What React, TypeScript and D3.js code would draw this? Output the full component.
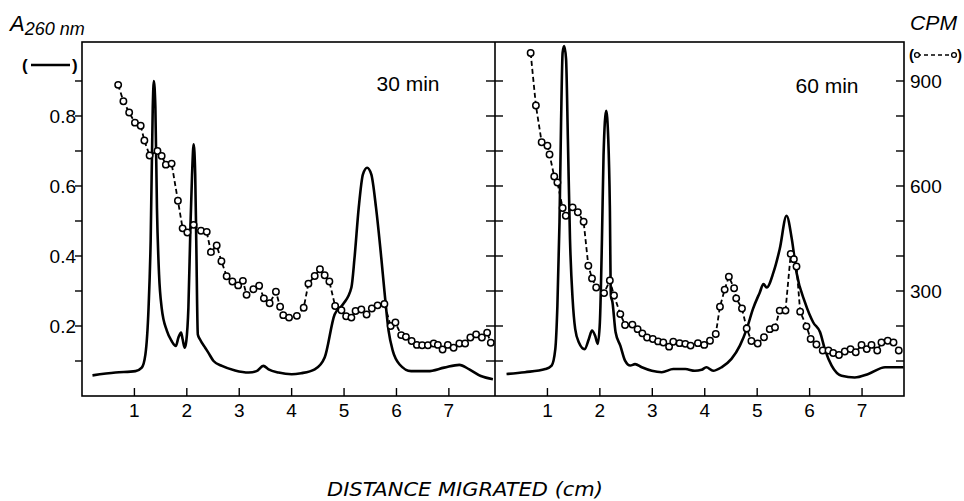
import { useEffect, useRef } from 'react';
import * as d3 from 'd3';

type Pt = [number, number];

// [distance (cm), A260]
const absorbance30: Pt[] = [
  [0.2, 0.059], [0.64, 0.067], [1.02, 0.071], [1.14, 0.081], [1.21, 0.119], [1.27, 0.252],
  [1.31, 0.443], [1.35, 0.824], [1.37, 0.9], [1.4, 0.824], [1.43, 0.538], [1.47, 0.348],
  [1.52, 0.252], [1.62, 0.186], [1.71, 0.157], [1.79, 0.143], [1.84, 0.167], [1.89, 0.181],
  [1.92, 0.162], [1.96, 0.138], [1.99, 0.157], [2.03, 0.252], [2.07, 0.49], [2.1, 0.633],
  [2.13, 0.719], [2.16, 0.633], [2.18, 0.443], [2.21, 0.176], [2.25, 0.162], [2.35, 0.138],
  [2.41, 0.124], [2.51, 0.1], [2.67, 0.086], [2.92, 0.073], [3.18, 0.067], [3.33, 0.071],
  [3.46, 0.086], [3.56, 0.076], [3.75, 0.067], [4.0, 0.062], [4.18, 0.065], [4.44, 0.076],
  [4.63, 0.11], [4.82, 0.233], [4.98, 0.262], [5.14, 0.31], [5.2, 0.395], [5.28, 0.538],
  [5.36, 0.633], [5.44, 0.652], [5.52, 0.633], [5.61, 0.538], [5.71, 0.395], [5.77, 0.3],
  [5.85, 0.186], [5.93, 0.129], [6.06, 0.09], [6.28, 0.071], [6.6, 0.071], [6.91, 0.081],
  [7.2, 0.089], [7.39, 0.076], [7.61, 0.057], [7.84, 0.048],
];

// [distance (cm), CPM]
const cpm30: Pt[] = [
  [0.69, 889], [0.79, 842], [0.9, 810], [1.01, 781], [1.12, 772], [1.19, 730], [1.29, 687],
  [1.44, 700], [1.52, 686], [1.6, 661], [1.71, 664], [1.83, 558], [1.92, 479], [2.01, 467],
  [2.13, 489], [2.27, 472], [2.38, 469], [2.46, 411], [2.57, 430], [2.66, 385], [2.76, 342],
  [2.87, 327], [2.98, 316], [3.07, 329], [3.14, 289], [3.27, 305], [3.38, 315], [3.47, 279],
  [3.58, 265], [3.7, 298], [3.78, 255], [3.84, 231], [3.95, 224], [4.1, 229], [4.23, 252],
  [4.32, 321], [4.44, 343], [4.54, 362], [4.63, 345], [4.72, 327], [4.83, 257], [4.95, 245],
  [5.04, 228], [5.14, 224], [5.22, 243], [5.33, 247], [5.43, 233], [5.53, 250], [5.64, 259],
  [5.77, 263], [5.89, 200], [5.98, 210], [6.09, 174], [6.18, 169], [6.29, 157], [6.39, 146],
  [6.49, 145], [6.6, 145], [6.71, 150], [6.79, 146], [6.88, 133], [6.98, 146], [7.09, 138],
  [7.2, 150], [7.31, 150], [7.41, 167], [7.52, 176], [7.63, 167], [7.73, 181], [7.8, 152],
];

const absorbance60: Pt[] = [
  [0.22, 0.063], [0.57, 0.068], [0.96, 0.077], [1.08, 0.087], [1.15, 0.134], [1.19, 0.258],
  [1.23, 0.496], [1.26, 0.782], [1.29, 0.982], [1.32, 1.0], [1.355, 0.963], [1.39, 0.734],
  [1.43, 0.449], [1.48, 0.277], [1.53, 0.191], [1.6, 0.153], [1.71, 0.134], [1.79, 0.163],
  [1.85, 0.187], [1.91, 0.172], [1.96, 0.149], [2.0, 0.21], [2.04, 0.449], [2.07, 0.687],
  [2.12, 0.815], [2.16, 0.734], [2.19, 0.544], [2.21, 0.287], [2.24, 0.268], [2.3, 0.182],
  [2.39, 0.144], [2.48, 0.101], [2.58, 0.087], [2.67, 0.091], [2.8, 0.082], [2.99, 0.072],
  [3.18, 0.068], [3.4, 0.077], [3.63, 0.077], [3.81, 0.072], [3.94, 0.075], [4.03, 0.082],
  [4.16, 0.072], [4.32, 0.082], [4.51, 0.106], [4.67, 0.144], [4.8, 0.191], [4.92, 0.249],
  [5.05, 0.296], [5.12, 0.32], [5.18, 0.31], [5.31, 0.353], [5.43, 0.42], [5.56, 0.515],
  [5.66, 0.449], [5.75, 0.353], [5.91, 0.268], [6.07, 0.21], [6.2, 0.182], [6.29, 0.134],
  [6.42, 0.087], [6.61, 0.058], [6.86, 0.053], [7.12, 0.063], [7.44, 0.082], [7.79, 0.082],
];

const cpm60: Pt[] = [
  [0.68, 980], [0.78, 830], [0.89, 725], [1.0, 715], [1.04, 690], [1.13, 627], [1.19, 610],
  [1.29, 537], [1.35, 515], [1.48, 539], [1.58, 525], [1.69, 498], [1.78, 372], [1.85, 336],
  [1.93, 310], [2.08, 294], [2.19, 330], [2.27, 287], [2.39, 234], [2.48, 203], [2.62, 204],
  [2.72, 191], [2.81, 179], [2.9, 167], [3.01, 163], [3.11, 156], [3.21, 153], [3.32, 141],
  [3.4, 155], [3.52, 151], [3.63, 149], [3.73, 144], [3.87, 151], [3.99, 146], [4.1, 158],
  [4.21, 177], [4.29, 255], [4.38, 304], [4.46, 341], [4.56, 308], [4.6, 279], [4.71, 250],
  [4.8, 193], [4.89, 157], [5.01, 150], [5.13, 168], [5.24, 191], [5.34, 196], [5.43, 244],
  [5.54, 244], [5.64, 406], [5.7, 391], [5.75, 370], [5.82, 241], [5.94, 199], [6.02, 163],
  [6.13, 147], [6.25, 130], [6.36, 130], [6.45, 123], [6.56, 117], [6.67, 127], [6.78, 134],
  [6.88, 125], [6.99, 146], [7.09, 134], [7.18, 146], [7.29, 130], [7.37, 153], [7.49, 158],
  [7.6, 153], [7.7, 130],
];

const distanceTicks = [1, 2, 3, 4, 5, 6, 7];
const absorbanceTicks = [0.1, 0.2, 0.3, 0.4, 0.5, 0.6, 0.7, 0.8, 0.9];
const absorbanceLabels = [0.2, 0.4, 0.6, 0.8];
const cpmTicks = [100, 200, 300, 400, 500, 600, 700, 800, 900];
const cpmLabels = [300, 600, 900];
const panelLabels = ['30 min', '60 min'];

export default function App() {
  const svgRef = useRef<SVGSVGElement>(null);

  useEffect(() => {
    if (!svgRef.current) return;
    const svg = d3.select(svgRef.current);
    svg.selectAll('*').remove();

    const top = 42;
    const bottom = 396;
    const left = 82;
    const mid = 495;
    const right = 904;
    const font = "'Liberation Sans', Arial, sans-serif";

    const yA = d3.scaleLinear().domain([0, 1.0114]).range([bottom, top]);
    const yC = d3.scaleLinear().domain([0, 1011.4]).range([bottom, top]);

    const panels = [
      { x: d3.scaleLinear().domain([0, 7.88]).range([left, mid]), abs: absorbance30, cpm: cpm30, label: panelLabels[0], lx: 408, ly: 91 },
      { x: d3.scaleLinear().domain([0, 7.8]).range([mid, right]), abs: absorbance60, cpm: cpm60, label: panelLabels[1], lx: 827, ly: 93 },
    ];

    // frame
    svg.append('rect')
      .attr('x', left).attr('y', top)
      .attr('width', right - left).attr('height', bottom - top)
      .attr('fill', 'none').attr('stroke', '#000').attr('stroke-width', 1.6);
    svg.append('line')
      .attr('x1', mid).attr('x2', mid).attr('y1', top).attr('y2', bottom)
      .attr('stroke', '#000').attr('stroke-width', 1.6);

    // left A260 axis (ticks repeated across the middle divider)
    absorbanceTicks.forEach(t => {
      svg.append('line')
        .attr('x1', left - 7).attr('x2', left).attr('y1', yA(t)).attr('y2', yA(t))
        .attr('stroke', '#000').attr('stroke-width', 1.4);
      svg.append('line')
        .attr('x1', mid - 9).attr('x2', mid + 8).attr('y1', yA(t)).attr('y2', yA(t))
        .attr('stroke', '#000').attr('stroke-width', 1.4);
    });
    absorbanceLabels.forEach(t => {
      svg.append('text')
        .attr('x', 76).attr('y', yA(t)).attr('dy', '0.36em')
        .attr('text-anchor', 'end')
        .style('font-family', font).style('font-size', '19px')
        .text(d3.format('.1f')(t));
    });

    // right CPM axis
    cpmTicks.forEach(t => {
      svg.append('line')
        .attr('x1', right - 8).attr('x2', right).attr('y1', yC(t)).attr('y2', yC(t))
        .attr('stroke', '#000').attr('stroke-width', 1.4);
    });
    cpmLabels.forEach(t => {
      svg.append('text')
        .attr('x', 910).attr('y', yC(t)).attr('dy', '0.36em')
        .style('font-family', font).style('font-size', '19px')
        .text(t);
    });

    const absLine = d3.line<Pt>().curve(d3.curveMonotoneX);
    const cpmLine = d3.line<Pt>();

    panels.forEach(p => {
      distanceTicks.forEach(t => {
        svg.append('line')
          .attr('x1', p.x(t)).attr('x2', p.x(t)).attr('y1', bottom).attr('y2', bottom - 8)
          .attr('stroke', '#000').attr('stroke-width', 1.4);
        svg.append('text')
          .attr('x', p.x(t)).attr('y', 417)
          .attr('text-anchor', 'middle')
          .style('font-family', font).style('font-size', '19px')
          .text(t);
      });

      absLine.x(d => p.x(d[0])).y(d => yA(d[1]));
      svg.append('path')
        .attr('d', absLine(p.abs))
        .attr('fill', 'none').attr('stroke', '#000')
        .attr('stroke-width', 2.6).attr('stroke-linejoin', 'round');

      cpmLine.x(d => p.x(d[0])).y(d => yC(d[1]));
      svg.append('path')
        .attr('d', cpmLine(p.cpm))
        .attr('fill', 'none').attr('stroke', '#000')
        .attr('stroke-width', 1.8).attr('stroke-dasharray', '5,3');

      svg.append('g').selectAll('circle')
        .data(p.cpm)
        .enter().append('circle')
        .attr('cx', d => p.x(d[0]))
        .attr('cy', d => yC(d[1]))
        .attr('r', 3.2)
        .attr('fill', '#fff').attr('stroke', '#000').attr('stroke-width', 1.5);

      svg.append('text')
        .attr('x', p.lx).attr('y', p.ly)
        .attr('text-anchor', 'middle')
        .style('font-family', font).style('font-size', '21px')
        .text(p.label);
    });

    // left axis title
    const aTitle = svg.append('text')
      .attr('x', 10).attr('y', 31)
      .style('font-family', font).style('font-style', 'italic');
    aTitle.append('tspan').style('font-size', '22px').text('A');
    aTitle.append('tspan').attr('dy', 4).style('font-size', '18px').text('260 nm');

    svg.append('text').attr('x', 22).attr('y', 71)
      .style('font-family', font).style('font-size', '17px').style('font-weight', 'bold').text('(');
    svg.append('line').attr('x1', 31).attr('x2', 70).attr('y1', 65).attr('y2', 65)
      .attr('stroke', '#000').attr('stroke-width', 2.4);
    svg.append('text').attr('x', 72).attr('y', 71)
      .style('font-family', font).style('font-size', '17px').style('font-weight', 'bold').text(')');

    // right axis title
    svg.append('text')
      .attr('x', 910).attr('y', 30)
      .attr('textLength', 47).attr('lengthAdjust', 'spacingAndGlyphs')
      .style('font-family', font).style('font-style', 'italic').style('font-size', '21px')
      .text('CPM');

    svg.append('text').attr('x', 909).attr('y', 60)
      .style('font-family', font).style('font-size', '15px').style('font-weight', 'bold').text('(');
    svg.append('line').attr('x1', 917).attr('x2', 954).attr('y1', 55).attr('y2', 55)
      .attr('stroke', '#000').attr('stroke-width', 1.4).attr('stroke-dasharray', '4,3');
    [917, 954].forEach(cx => {
      svg.append('circle').attr('cx', cx).attr('cy', 55).attr('r', 2.4)
        .attr('fill', '#fff').attr('stroke', '#000').attr('stroke-width', 1.3);
    });
    svg.append('text').attr('x', 957).attr('y', 60)
      .style('font-family', font).style('font-size', '15px').style('font-weight', 'bold').text(')');

    // x axis title
    svg.append('text')
      .attr('x', 465).attr('y', 496)
      .attr('text-anchor', 'middle')
      .attr('textLength', 276).attr('lengthAdjust', 'spacingAndGlyphs')
      .style('font-family', "'DejaVu Sans Condensed', 'DejaVu Sans', sans-serif")
      .style('font-style', 'italic').style('font-size', '19px')
      .text('DISTANCE MIGRATED (cm)');
  }, []);

  return (
    <svg
      ref={svgRef}
      width={964}
      height={501}
      style={{ position: 'absolute', left: 0, top: 0, background: '#fff' }}
    />
  );
}
